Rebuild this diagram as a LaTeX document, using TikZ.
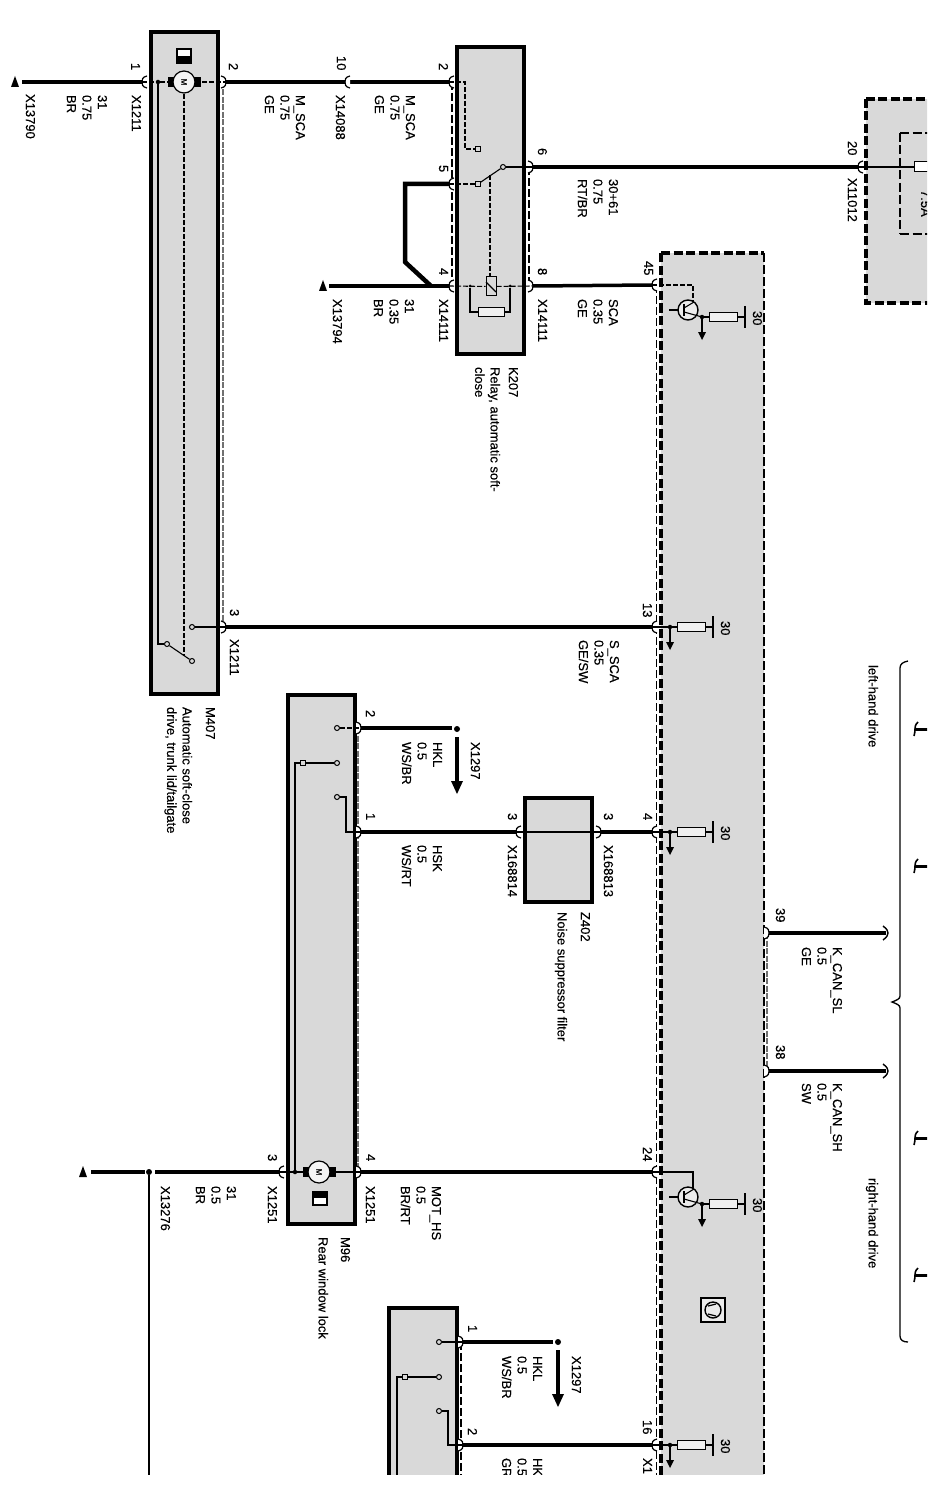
\documentclass[tikz,border=0pt]{standalone}
\usepackage{fontspec}
\setmainfont[FakeBold=0.35]{Liberation Sans}
\definecolor{boxgray}{HTML}{D9D9D9}
\definecolor{dashgray}{HTML}{707070}
\tikzset{
  lbl/.style={rotate=-90,anchor=north west,inner sep=0pt,outer sep=0pt,align=left,font=\fontsize{13}{15.5}\selectfont,text=black},
  unitbox/.style={draw=black,line width=3.5pt,fill=boxgray,line join=miter},
  dashbox/.style={draw=black,line width=3.5pt,fill=boxgray,dash pattern=on 9pt off 3.5pt},
  wirethick/.style={line width=4.5pt,black},
  wiremid/.style={line width=3.5pt,black},
  thinline/.style={line width=1.1pt,black},
  thindash/.style={line width=1.1pt,black,dash pattern=on 5pt off 2pt},
  edgedash/.style={line width=1.3pt,black,dash pattern=on 8pt off 3pt},
  graydash/.style={line width=2pt,dashgray,dash pattern=on 6pt off 1.5pt},
  contact/.style={circle,draw=black,fill=boxgray,line width=1pt,inner sep=0pt,minimum size=5pt},
  sqcontact/.style={rectangle,draw=black,fill=boxgray,line width=1pt,inner sep=0pt,minimum size=4.5pt},
  jdot/.style={circle,fill=black,inner sep=0pt,minimum size=4.5pt},
  resistor/.style={rectangle,draw=black,fill=boxgray!40,line width=1pt,inner sep=0pt},
  pics/pinhook/.style={code={
    \fill[white] (5,-6) .. controls (0,-5) and (0,-2) .. (0,0) .. controls (0,2) and (0,5) .. (5,6) -- cycle;
    \draw[line width=1.2pt,black] (5,-6) .. controls (0,-5) and (0,-2) .. (0,0) .. controls (0,2) and (0,5) .. (5,6);}},
  pics/groundtip/.style={code={\fill[black] (0,-6) -- (4,5) -- (-4,5) -- cycle;}},
  pics/motorsym/.style={code={
    \fill[black] (-16,-5) rectangle (-10,5);
    \fill[black] (10,-5) rectangle (17,5);
    \draw[line width=1.2pt,black,fill=white!70!boxgray] (0,0) circle (11);
    \node[rotate=-90,inner sep=0pt,font=\fontsize{8}{8}\selectfont] {M};}},
  pics/endhook/.style={code={\draw[line width=1.4pt,black] (-3,-7) .. controls (1,-4) and (2,-2) .. (2,0) .. controls (2,2) and (1,4) .. (-3,7);}},
  pics/cuthook/.style={code={\draw[line width=1.6pt,black] (3,-7) .. controls (0,-4) and (0,-2) .. (0,0) .. controls (0,2) and (0,3) .. (-1,7);}},
}
\newcommand{\lb}[4]{\node[lbl] (#1) at (#2,#3) {#4};}
% module output stage: name, y, x shift
\newcommand{\modout}[3]{%
  \node[jdot] (#1j) at ({670+#3},#2) {};
  \node[resistor,minimum width=28pt,minimum height=9pt] (#1r) at ({691.5+#3},#2) {};
  \coordinate (#1bt) at ({713+#3},{#2-11});
  \coordinate (#1bb) at ({713+#3},{#2+11});
  \coordinate (#1b) at ({713+#3},#2);
  \coordinate (#1a) at ({670+#3},{#2+15});
  \draw[thinline] (#1j) -- (#1r) -- (#1b);
  \draw[line width=1.6pt] (#1bt) -- (#1bb);
  \draw[line width=1.2pt] (#1j) -- (#1a);
  \fill[black] ({666+#3},{#2+15}) -- ({674+#3},{#2+15}) -- ({670+#3},{#2+23}) -- cycle;
  \lb{#1l}{{730+#3}}{{#2-6}}{30}
}
\newcommand{\bigarrow}[3]{%
  \node[jdot,minimum size=6pt] (#1d) at (#2,#3) {};
  \coordinate (#1e) at (#2,{#3+53});
  \coordinate (#1s) at (#2,{#3+8});
  \draw[line width=4pt] (#1s) -- (#1e);
  \fill[black] ({#2-6},{#3+52}) -- ({#2+6},{#3+52}) -- (#2,{#3+65}) -- cycle;
}
\begin{document}
\begin{tikzpicture}[x=1pt,y=-1pt]
\useasboundingbox (0,0) rectangle (927,1487);
\fill[white] (0,0) rectangle (927,1487);
\begin{scope}
\clip (0,0) rectangle (927,1474);

% ---- boxes
\path[unitbox] (151,32) rectangle (218,694);
\path[unitbox] (457,47) rectangle (524,354);
\path[unitbox] (288,695) rectangle (355,1224);
\path[unitbox] (525,798) rectangle (592,902);
\path[unitbox] (389,1308) rectangle (457,1500);
\fill[boxgray] (661,253) rectangle (764,1500);
\draw[line width=3.5pt,dash pattern=on 9pt off 3.5pt] (661,1500) -- (661,253);
\draw[line width=3.5pt,dash pattern=on 9pt off 3.5pt] (661,253) -- (764,253);
\draw[line width=2.6pt,dash pattern=on 9pt off 3pt] (764,253) -- (764,1500);
\path[dashbox] (866,99) rectangle (960,303);
\draw[line width=2.6pt,dash pattern=on 9pt off 3.5pt] (900,133) -- (900,234);
\draw[line width=2.6pt,dash pattern=on 9pt off 3.5pt] (900,133) -- (930,133);
\draw[line width=2.6pt,dash pattern=on 9pt off 3.5pt] (900,234) -- (930,234);

% ---- pin coordinates
\coordinate (m1) at (142,82); \coordinate (m2) at (226,82); \coordinate (m3) at (226,627);
\coordinate (j10) at (345,82);
\coordinate (k2) at (449,82); \coordinate (k5) at (449,184); \coordinate (k4) at (449,286);
\coordinate (k6) at (533,167); \coordinate (k8) at (533,286);
\coordinate (f20) at (858,167);
\coordinate (a45) at (652,285); \coordinate (a13) at (652,627); \coordinate (a4) at (652,832);
\coordinate (a24) at (652,1172); \coordinate (a16) at (652,1445);
\coordinate (a39) at (769,933); \coordinate (a38) at (769,1071);
\coordinate (r2) at (361,728); \coordinate (r1) at (361,832); \coordinate (r3) at (279,1172); \coordinate (r4) at (361,1172);
\coordinate (zl) at (516,832); \coordinate (zr) at (601,832);
\coordinate (s1) at (463,1342); \coordinate (s2) at (463,1445);
\coordinate (tm) at (22,82); \coordinate (tk) at (329,286); \coordinate (tr) at (91,1172);
\coordinate (jmpa) at (405,184); \coordinate (jmpb) at (405,262); \coordinate (jmpc) at (431,286);
\coordinate (can1) at (886,933); \coordinate (can2) at (886,1071);

% ---- dashed edges beside the units
\coordinate (gmb) at (223,627); \coordinate (gmt) at (223,82);
\draw[graydash] (gmt) -- (gmb);
\coordinate (grt) at (358,728); \coordinate (grb) at (358,1172);
\draw[graydash] (grt) -- (grb);
\coordinate (gat) at (767,933); \coordinate (gab) at (767,1071);
\draw[graydash] (gat) -- (gab);
\coordinate (dk1) at (452,82); \coordinate (dk2) at (452,286);
\draw[edgedash] (dk1) -- (dk2);
\coordinate (dk3) at (529,167); \coordinate (dk4) at (529,286);
\draw[edgedash] (dk3) -- (dk4);
\coordinate (da1) at (656.5,285); \coordinate (da2) at (656.5,1500);
\draw[edgedash] (da1) -- (da2);
\coordinate (ds1) at (461,1342); \coordinate (ds2) at (461,1500);
\draw[edgedash] (ds1) -- (ds2);

% ---- wires
\draw[wirethick] (tm) -- (m1);
\draw[wirethick] (m2) -- (j10);
\draw[wirethick] (j10) -- (k2);
\draw[wirethick] (k6) -- (f20);
\draw[wirethick] (tk) -- (k4);
\draw[wirethick,line join=miter] (k5) -- (jmpa) -- (jmpb) -- (jmpc);
\draw[wiremid] (k8) -- (a45);
\draw[wirethick] (m3) -- (a13);
\draw[wirethick] (r1) -- (zl);
\draw[wirethick] (zr) -- (a4);
\draw[wirethick] (r4) -- (a24);
\draw[wiremid] (a39) -- (can1);
\draw[wiremid] (a38) -- (can2);
\pic at (can1) {endhook};
\pic at (can2) {endhook};
\draw[wiremid] (s2) -- (a16);

% ---- hooks
\foreach \p in {m1,j10,k2,k5,k4,a45,a13,a4,a24,a16,f20,zl,r3} {\pic at (\p) {pinhook};}
\foreach \p in {m2,m3,k6,k8,r2,r1,r4,zr,a39,a38,s1,s2} {\pic[rotate=180] at (\p) {pinhook};}

% ---- M407
\pic at (184,82) {motorsym};
\draw[thinline,fill=white] (177,49) rectangle (191,63);
\fill[black] (177,56) rectangle (191,63);
\node[jdot] (mj) at (158,82) {};
\coordinate (mb) at (158,644);
\node[contact] (mc1) at (167,644) {};
\node[contact] (mc2) at (192,661) {};
\node[contact] (mc3) at (192,627) {};
\coordinate (mdt) at (184,94); \coordinate (mdb) at (184,656);
\draw[thindash,line width=1.3pt] (mdt) -- (mdb);
\draw[thindash] (m1) -- (mj) -- (173,82);
\draw[thindash] (195,82) -- (m2);
\draw[thinline] (mj) -- (mb) -- (mc1);
\draw[thinline] (mc1) -- (mc2);
\draw[thinline] (mc3) -- (m3);

% ---- K207
\node[sqcontact] (kc1) at (478,149) {};
\node[sqcontact] (kc2) at (478,184) {};
\node[contact] (kc3) at (503,167) {};
\coordinate (ke1) at (465,82); \coordinate (ke2) at (465,149);
\draw[thindash] (k2) -- (ke1) -- (ke2) -- (kc1);
\draw[thindash] (k5) -- (kc2);
\draw[thinline] (kc2) -- (kc3);
\draw[thinline] (kc3) -- (k6);
\node[jdot,minimum size=3pt] (kj1) at (470,286) {};
\node[jdot,minimum size=3pt] (kj2) at (510,286) {};
\node[resistor,minimum width=26pt,minimum height=8pt] (kr) at (491,312) {};
\node[rectangle,draw=black,line width=1pt,inner sep=0pt,minimum width=10pt,minimum height=19pt,fill=boxgray] (kcoil) at (491,286.5) {};
\coordinate (kdt) at (490,175); \coordinate (kcoiltop) at (490,277);
\draw[thindash] (kdt) -- (kcoiltop);
\draw[thinline] (486,282) -- (496,292);
\draw[thindash] (k4) -- (kcoil) -- (k8);
\draw[thinline] (kj1) |- (kr);
\draw[thinline] (kj2) |- (kr);

% ---- rear lock (M96)
\pic at (319,1172) {motorsym};
\draw[thinline,fill=white] (313,1192) rectangle (327,1205);
\fill[black] (313,1192) rectangle (327,1198);
\node[jdot] (rj) at (295,1172) {};
\coordinate (rt) at (295,763);
\node[sqcontact] (rc1) at (303,763) {};
\node[contact] (rc2) at (337,763) {};
\node[contact] (rc3) at (337,728) {};
\node[contact] (rc4) at (337,797) {};
\coordinate (re1) at (346,797); \coordinate (re2) at (346,832);
\draw[thinline] (rj) -- (rt) -- (rc1) -- (rc2);
\draw[thindash] (rc3) -- (r2);
\draw[thinline] (rc4) -- (re1) -- (re2) -- (r1);
\draw[thinline] (r3) -- (rj) -- (308,1172);
\draw[thinline] (330,1172) -- (r4);

% ---- rear lock wires
\coordinate (rm3) at (155,1172);
\node[jdot,minimum size=6pt] (rsplice) at (149,1172) {};
\draw[wirethick] (tr) -- (145,1172);
\draw[wirethick] (rm3) -- (r3);
\coordinate (vd) at (149,1500);
\draw[line width=1.2pt] (rsplice) -- (vd);

% ---- HKL arrows
\coordinate (hk1) at (452,728);
\draw[wirethick] (r2) -- (hk1);
\bigarrow{ha}{457}{729}
\coordinate (hk2) at (553,1342);
\draw[wirethick] (s1) -- (hk2);
\bigarrow{hb}{558}{1342}

% ---- lower unit
\node[contact] (sc1) at (439,1342) {};
\node[contact] (sc2) at (439,1377) {};
\node[sqcontact] (sc3) at (405,1377) {};
\node[contact] (sc4) at (439,1411) {};
\coordinate (se1) at (448,1411); \coordinate (se2) at (448,1445);
\coordinate (sv1) at (397,1377); \coordinate (sv2) at (397,1500);
\draw[thinline] (sc1) -- (s1);
\draw[thinline] (sc2) -- (sc3) -- (sv1) -- (sv2);
\draw[thinline] (sc4) -- (se1) -- (se2) -- (s2);

% ---- Z402 through line
\draw[thinline] (zl) -- (zr);

% ---- fuse
\node[resistor,minimum width=30pt,minimum height=10pt,anchor=west,fill=white] (fuse) at (914,167) {};
\draw[thinline] (f20) -- (fuse);
\node[lbl] (fuset) at (930,190) {7.5A};

% ---- module stages
\coordinate (t1a) at (693,285); \coordinate (t1b) at (693,301);
\draw[thindash] (a45) -- (t1a) -- (t1b);
\draw[line width=1.4pt,fill=boxgray!50] (688,310) circle (10);
\draw[thinline] (669,310) -- (678,310);
\draw[line width=1.6pt] (684,304) -- (684,316);
\draw[thinline] (684,308) -- (694,302);
\draw[thinline] (684,312) -- (702,317);
\modout{oa}{317}{32}
\coordinate (t2a) at (693,1172); \coordinate (t2b) at (693,1188);
\draw[thinline] (a24) -- (t2a) -- (t2b);
\draw[line width=1.4pt,fill=boxgray!50] (688,1197) circle (10);
\draw[thinline] (669,1197) -- (678,1197);
\draw[line width=1.6pt] (684,1191) -- (684,1203);
\draw[thinline] (684,1195) -- (694,1189);
\draw[thinline] (684,1199) -- (702,1204);
\modout{ob}{1204}{32}
\modout{oc}{627}{0}
\modout{od}{832}{0}
\modout{oe}{1445}{0}
\draw[thinline] (a13) -- (ocj);
\draw[thinline] (a4) -- (odj);
\draw[thinline] (a16) -- (oej);

% ---- module icon
\draw[line width=1.4pt,fill=boxgray!50] (701,1298) rectangle (725,1322);
\draw[line width=1.4pt] (713,1310) circle (8);
\draw[line width=1.2pt] (708,1306) -- (716,1304);
\draw[line width=1.2pt] (708,1314) -- (716,1316);

% ---- right brace
\coordinate (bt) at (908,661); \coordinate (bb) at (908,1342);
\draw[line width=1.3pt] (bt) .. controls (903,662) and (900,664) .. (900,668) -- (900,996) .. controls (900,999) and (897,1000) .. (892,1002) .. controls (897,1004) and (900,1005) .. (900,1008) -- (900,1336) .. controls (900,1340) and (903,1342) .. (bb);
\foreach \yy/\nm in {729/ca,866/cb,1138/cc,1275/cd}{
  \coordinate (\nm) at (915,\yy);
  \coordinate (\nm e) at (935,\yy);
  \draw[line width=3pt] (\nm) -- (\nm e);
  \pic at (\nm) {cuthook};
}

% ---- terminals
\pic at (15,82) {groundtip};
\pic at (323,286) {groundtip};
\pic at (83,1172) {groundtip};

% ---- labels: M407 side
\lb{t01}{35}{94}{X13790}
\lb{t02}{107}{95}{31\\0.75\\BR}
\lb{t03}{141}{95}{X1211}
\lb{t04}{140}{63}{1}
\lb{t05}{238}{63}{2}
\lb{t06}{305}{95}{M\_SCA\\0.75\\GE}
\lb{t07}{345}{95}{X14088}
\lb{t08}{346}{56}{10}
\lb{t09}{239}{639}{X1211}
\lb{t10}{239}{609}{3}
\lb{t11}{215}{707}{M407}
\lb{t12}{192}{707}{Automatic soft-close\\drive, trunk lid/tailgate}

% K207
\lb{t13}{448}{63}{2}
\lb{t14}{448}{165}{5}
\lb{t15}{448}{268}{4}
\lb{t16}{342}{299}{X13794}
\lb{t17}{414}{299}{31\\0.35\\BR}
\lb{t18}{448}{299}{X14111}
\lb{t19}{547}{299}{X14111}
\lb{t20}{547}{148}{6}
\lb{t21}{547}{268}{8}
\lb{t22}{415}{95}{M\_SCA\\0.75\\GE}
\lb{t23}{618}{179}{30+61\\0.75\\RT/BR}
\lb{t24}{618}{299}{SCA\\0.35\\GE}
\lb{t25}{518}{367}{K207}
\lb{t26}{500}{367}{Relay, automatic soft-\\close}

% fuse & module pins
\lb{t27}{857}{141}{20}
\lb{t28}{857}{178}{X11012}
\lb{t29}{653}{261}{45}
\lb{t30}{652}{603}{13}
\lb{t31}{619}{640}{S\_SCA\\0.35\\GE/SW}
\lb{t32}{652}{813}{4}
\lb{t33}{652}{1147}{24}
\lb{t34}{652}{1420}{16}
\lb{t35}{652}{1458}{X1}

% rear lock
\lb{t36}{375}{710}{2}
\lb{t37}{375}{813}{1}
\lb{t38}{442}{742}{HKL\\0.5\\WS/BR}
\lb{t39}{442}{845}{HSK\\0.5\\WS/RT}
\lb{t40}{480}{742}{X1297}
\lb{t41}{517}{813}{3}
\lb{t42}{517}{845}{X168814}
\lb{t43}{613}{813}{3}
\lb{t44}{613}{845}{X168813}
\lb{t45}{590}{912}{Z402}
\lb{t46}{567}{912}{Noise suppressor filter}
\lb{t47}{785}{908}{39}
\lb{t48}{785}{1045}{38}
\lb{t49}{842}{947}{K\_CAN\_SL\\0.5\\GE}
\lb{t50}{842}{1083}{K\_CAN\_SH\\0.5\\SW}
\lb{t51}{878}{665}{left-hand drive}
\lb{t52}{878}{1178}{right-hand drive}
\lb{t53}{170}{1186}{X13276}
\lb{t54}{236}{1186}{31\\0.5\\BR}
\lb{t55}{277}{1186}{X1251}
\lb{t56}{277}{1154}{3}
\lb{t57}{375}{1154}{4}
\lb{t58}{375}{1186}{X1251}
\lb{t59}{441}{1186}{MOT\_HS\\0.5\\BR/RT}
\lb{t60}{350}{1237}{M96}
\lb{t61}{328}{1237}{Rear window lock}

% lower unit
\lb{t62}{477}{1325}{1}
\lb{t63}{477}{1428}{2}
\lb{t64}{542}{1356}{HKL\\0.5\\WS/BR}
\lb{t65}{581}{1356}{X1297}
\lb{t66}{542}{1458}{HK\\0.5\\GR}
\end{scope}
\end{tikzpicture}
\end{document}
